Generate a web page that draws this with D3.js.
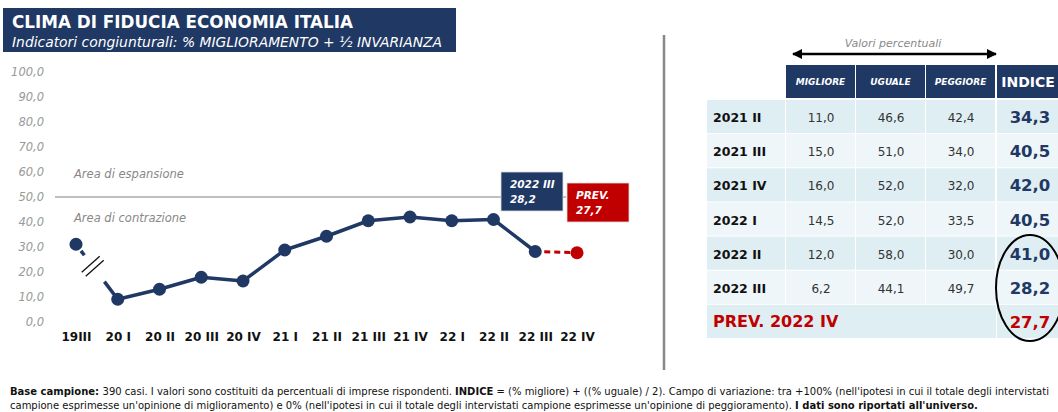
<!DOCTYPE html>
<html>
<head>
<meta charset="utf-8">
<script src="https://cdn.jsdelivr.net/npm/d3@7"></script>
<style>
  body { margin: 0; background: #fff; }
  svg { display: block; font-family: "DejaVu Sans", sans-serif; }
</style>
</head>
<body>
<div id="graph"></div>
<script>
// chart data
const periods = ["19III", "20 I", "20 II", "20 III", "20 IV", "21 I", "21 II", "21 III", "21 IV", "22 I", "22 II", "22 III", "22 IV"];
const indice = [31.1, 9.1, 13.1, 17.9, 16.4, 28.8, 34.3, 40.5, 42.0, 40.5, 41.0, 28.2, 27.7];
const yTicks = [0, 10, 20, 30, 40, 50, 60, 70, 80, 90, 100];

// table data
const tableRows = ["2021 II", "2021 III", "2021 IV", "2022 I", "2022 II", "2022 III"];
const tableCols = ["MIGLIORE", "UGUALE", "PEGGIORE"];
const migliore = [11.0, 15.0, 16.0, 14.5, 12.0, 6.2];
const uguale = [46.6, 51.0, 52.0, 52.0, 58.0, 44.1];
const peggiore = [42.4, 34.0, 32.0, 33.5, 30.0, 49.7];
const tableIndice = [34.3, 40.5, 42.0, 40.5, 41.0, 28.2];
const prevLabel = "PREV. 2022 IV";
const prevIndice = 27.7;

const width = 1058, height = 412;
const navy = "#1f3864", red = "#c00000";
const fmt = v => d3.format(".1f")(v).replace(".", ",");

const svg = d3.select("#graph").append("svg")
  .attr("width", width).attr("height", height);

// title box
svg.append("rect").attr("x", 3).attr("y", 8).attr("width", 453).attr("height", 44).attr("fill", navy);
svg.append("text").attr("x", 12).attr("y", 28)
  .attr("fill", "#fff").attr("font-weight", "bold").attr("font-size", 17)
  .attr("textLength", 341).attr("lengthAdjust", "spacingAndGlyphs")
  .text("CLIMA DI FIDUCIA ECONOMIA ITALIA");
svg.append("text").attr("x", 12).attr("y", 47)
  .attr("fill", "#fff").attr("font-style", "italic").attr("font-size", 14)
  .attr("textLength", 430).attr("lengthAdjust", "spacingAndGlyphs")
  .text("Indicatori congiunturali: % MIGLIORAMENTO + ½ INVARIANZA");

// scales
const xScale = d3.scalePoint().domain(periods).range([76, 577]);
const yScale = d3.scaleLinear().domain([0, 100]).range([322, 72]);

// y axis (labels only)
const yAxis = d3.axisLeft(yScale).tickValues(yTicks).tickFormat(fmt).tickSize(0).tickPadding(0);
const gy = svg.append("g").attr("transform", "translate(44,0)").call(yAxis);
gy.select(".domain").remove();
gy.selectAll("text").attr("fill", "#999").attr("font-style", "italic")
  .attr("font-size", 11.5).attr("font-family", "DejaVu Sans, sans-serif");

// x axis (labels only)
const xAxis = d3.axisBottom(xScale).tickSize(0).tickPadding(0);
const gx = svg.append("g").attr("transform", "translate(0,332)").call(xAxis);
gx.select(".domain").remove();
gx.selectAll("text").attr("fill", "#111").attr("font-weight", "bold")
  .attr("font-size", 12).attr("font-family", "DejaVu Sans, sans-serif");

// 50 line + area labels
svg.append("line").attr("x1", 55).attr("x2", 566)
  .attr("y1", yScale(50)).attr("y2", yScale(50))
  .attr("stroke", "#aaa").attr("stroke-width", 1.5);
svg.append("text").attr("x", 74).attr("y", yScale(50) - 19)
  .attr("fill", "#888").attr("font-style", "italic").attr("font-size", 11.5)
  .text("Area di espansione");
svg.append("text").attr("x", 74).attr("y", yScale(50) + 25)
  .attr("fill", "#888").attr("font-style", "italic").attr("font-size", 11.5)
  .text("Area di contrazione");

// broken first segment
const p0 = [xScale(periods[0]), yScale(indice[0])];
const p1 = [xScale(periods[1]), yScale(indice[1])];
const at = t => [p0[0] + (p1[0] - p0[0]) * t, p0[1] + (p1[1] - p0[1]) * t];
[[0.12, 0.2], [0.68, 1]].forEach(([a, b]) => {
  svg.append("line")
    .attr("x1", at(a)[0]).attr("y1", at(a)[1]).attr("x2", at(b)[0]).attr("y2", at(b)[1])
    .attr("stroke", navy).attr("stroke-width", 3.5);
});
const mid = at(0.4);
[-2, 2].forEach(o => {
  svg.append("line")
    .attr("x1", mid[0] - 9 + o).attr("y1", mid[1] + 8 + o)
    .attr("x2", mid[0] + 9 + o).attr("y2", mid[1] - 8 + o)
    .attr("stroke", "#111").attr("stroke-width", 1.3);
});

// main line
const line = d3.line().x(d => xScale(d.p)).y(d => yScale(d.v));
const pts = periods.map((p, i) => ({ p: p, v: indice[i] }));
svg.append("path").datum(pts.slice(1, 12))
  .attr("fill", "none").attr("stroke", navy).attr("stroke-width", 3.5)
  .attr("stroke-linejoin", "round").attr("d", line);
svg.append("path").datum(pts.slice(11, 13))
  .attr("fill", "none").attr("stroke", red).attr("stroke-width", 3)
  .attr("stroke-dasharray", "6,4").attr("stroke-dashoffset", -9).attr("d", line);

svg.selectAll("circle.pt").data(pts).enter().append("circle")
  .attr("class", "pt")
  .attr("cx", d => xScale(d.p)).attr("cy", d => yScale(d.v)).attr("r", 6.5)
  .attr("fill", (d, i) => i === pts.length - 1 ? red : navy);

// annotation boxes
function note(x, y, w, h, fill, lines) {
  svg.append("rect").attr("x", x).attr("y", y).attr("width", w).attr("height", h)
    .attr("fill", fill).attr("stroke", "#ddd").attr("stroke-width", 0.8);
  lines.forEach((t, i) => {
    svg.append("text").attr("x", x + 9).attr("y", y + 16 + i * 15)
      .attr("fill", "#fff").attr("font-weight", "bold").attr("font-style", "italic")
      .attr("font-size", 10.5).text(t);
  });
}
note(501, 172, 62, 39, navy, ["2022  III", fmt(indice[11])]);
note(567, 183, 62, 39, red, ["PREV.", fmt(indice[12])]);

// separator
svg.append("line").attr("x1", 664).attr("x2", 664).attr("y1", 35).attr("y2", 370)
  .attr("stroke", "#888").attr("stroke-width", 2.5);

// table
const colX = [707, 786, 856, 926, 997];
const colW = [79, 70, 70, 70, 63];
const allRows = tableRows.concat([prevLabel]);
const rowScale = d3.scaleBand().domain(allRows).range([100, 339]);

svg.append("text").attr("x", 893).attr("y", 47).attr("text-anchor", "middle")
  .attr("fill", "#888").attr("font-style", "italic").attr("font-size", 11)
  .text("Valori percentuali");
const defs = svg.append("defs");
defs.append("marker").attr("id", "ah").attr("viewBox", "0 0 10 10")
  .attr("refX", 9).attr("refY", 5).attr("markerWidth", 4).attr("markerHeight", 4)
  .attr("orient", "auto-start-reverse")
  .append("path").attr("d", "M0,0L10,5L0,10z").attr("fill", "#000");
svg.append("line").attr("x1", 793).attr("x2", 996).attr("y1", 54).attr("y2", 54)
  .attr("stroke", "#000").attr("stroke-width", 2.5)
  .attr("marker-start", "url(#ah)").attr("marker-end", "url(#ah)");

// header
tableCols.concat(["INDICE"]).forEach((c, i) => {
  svg.append("rect").attr("x", colX[i + 1]).attr("y", 65).attr("width", colW[i + 1] - 1).attr("height", 33)
    .attr("fill", navy);
  const isIdx = c === "INDICE";
  svg.append("text").attr("x", colX[i + 1] + (colW[i + 1] - 1) / 2).attr("y", isIdx ? 87 : 85)
    .attr("text-anchor", "middle").attr("fill", "#fff").attr("font-weight", "bold")
    .attr("font-style", isIdx ? "normal" : "italic").attr("font-size", isIdx ? 14 : 9)
    .text(c);
});

// rows
const cols = [migliore, uguale, peggiore];
allRows.forEach((r, ri) => {
  const y = rowScale(r), h = rowScale.bandwidth();
  const bg = ri % 2 === 0 ? "#dfeef2" : "#eef6f9";
  const isPrev = r === prevLabel;
  if (isPrev) {
    svg.append("rect").attr("x", colX[0]).attr("y", y).attr("width", colX[4] - colX[0] - 1).attr("height", h - 1).attr("fill", bg);
  } else {
    colX.slice(0, 4).forEach((x, ci) => {
      svg.append("rect").attr("x", x).attr("y", y).attr("width", colW[ci] - 1).attr("height", h - 1).attr("fill", bg);
    });
  }
  svg.append("rect").attr("x", colX[4]).attr("y", y).attr("width", colW[4]).attr("height", h - 1).attr("fill", bg);

  svg.append("text").attr("x", 713).attr("y", y + h / 2 + 5)
    .attr("fill", isPrev ? red : "#111").attr("font-weight", "bold")
    .attr("font-size", isPrev ? 16 : 12.5)
    .text(r);
  if (!isPrev) {
    cols.forEach((arr, ci) => {
      svg.append("text").attr("x", colX[ci + 1] + colW[ci + 1] / 2).attr("y", y + h / 2 + 5)
        .attr("text-anchor", "middle").attr("fill", "#333").attr("font-size", 12)
        .text(fmt(arr[ri]));
    });
  }
  svg.append("text").attr("x", 1030).attr("y", y + h / 2 + 6)
    .attr("text-anchor", "middle").attr("fill", isPrev ? red : navy).attr("font-weight", "bold")
    .attr("font-size", 16.5)
    .text(fmt(isPrev ? prevIndice : tableIndice[ri]));
});

// ellipse around last rows
svg.append("ellipse").attr("cx", 1030).attr("cy", 288).attr("rx", 34).attr("ry", 53)
  .attr("fill", "none").attr("stroke", "#000").attr("stroke-width", 2);

// footer
const f1 = svg.append("text").attr("x", 10).attr("y", 395).attr("font-size", 10).attr("fill", "#111");
f1.append("tspan").attr("font-weight", "bold").text("Base campione: ");
f1.append("tspan").text("390 casi. I valori sono costituiti da percentuali di imprese rispondenti. ");
f1.append("tspan").attr("font-weight", "bold").text("INDICE");
f1.append("tspan").text(" = (% migliore) + ((% uguale) / 2). Campo di variazione: tra +100% (nell'ipotesi in cui il totale degli intervistati");
const f2 = svg.append("text").attr("x", 10).attr("y", 409).attr("font-size", 10).attr("fill", "#111");
f2.append("tspan").text("campione esprimesse un'opinione di miglioramento) e 0% (nell'ipotesi in cui il totale degli intervistati campione esprimesse un'opinione di peggioramento). ");
f2.append("tspan").attr("font-weight", "bold").text("I dati sono riportati all'universo.");
</script>
</body>
</html>
